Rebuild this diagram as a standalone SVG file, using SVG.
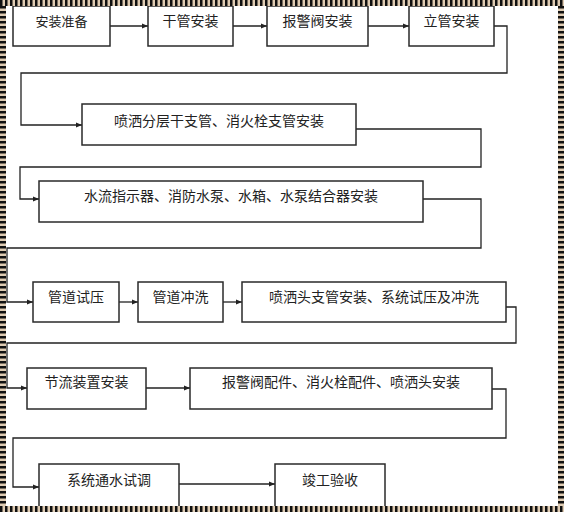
<svg xmlns="http://www.w3.org/2000/svg" width="564" height="512" viewBox="0 0 564 512">
<style>
.box{fill:#fff;stroke:#2a2a2a;stroke-width:1.5}
.t{font-family:"Liberation Serif","Noto Sans CJK SC",serif;font-size:14px;fill:#222;text-anchor:middle}
.c{fill:none;stroke:#222;stroke-width:1.3}
</style>
<defs>
<marker id="ah" markerUnits="userSpaceOnUse" markerWidth="6" markerHeight="6" refX="6" refY="3" orient="auto">
<path d="M0,0.6 L6,3 L0,5.4 Z" fill="#222"/>
</marker>
</defs>
<rect x="0" y="0" width="564" height="512" fill="#fff"/>
<g id="connectors">
<path class="c" d="M110,26 H148" marker-end="url(#ah)"/>
<path class="c" d="M233,26 H267" marker-end="url(#ah)"/>
<path class="c" d="M368,26 H409" marker-end="url(#ah)"/>
<path class="c" d="M494,26 H507 V73 H21 V125 H82" marker-end="url(#ah)"/>
<path class="c" d="M356,129 H481 V167 H20 V199 H39" marker-end="url(#ah)"/>
<path class="c" d="M423,199 H481 V248 H7 V302 H33" marker-end="url(#ah)"/>
<path class="c" d="M119,302 H138" marker-end="url(#ah)"/>
<path class="c" d="M223,302 H242" marker-end="url(#ah)"/>
<path class="c" d="M506,307 H516 V343 H7 V388 H27" marker-end="url(#ah)"/>
<path class="c" d="M146,388 H190" marker-end="url(#ah)"/>
<path class="c" d="M492,389 H506 V438 H13 V487 H39" marker-end="url(#ah)"/>
<path class="c" d="M179,484 H275" marker-end="url(#ah)"/>
</g>
<g id="n1"><rect class="box" x="13" y="6" width="97" height="40"/><text class="t" x="61.5" y="26" style="font-size:13px">安装准备</text></g>
<g id="n2"><rect class="box" x="148" y="6" width="85" height="40"/><text class="t" x="190.5" y="26">干管安装</text></g>
<g id="n3"><rect class="box" x="267" y="6" width="101" height="40"/><text class="t" x="317.5" y="26">报警阀安装</text></g>
<g id="n4"><rect class="box" x="409" y="6" width="85" height="40"/><text class="t" x="451.5" y="26">立管安装</text></g>
<g id="n5"><rect class="box" x="82" y="104" width="274" height="41"/><text class="t" x="219" y="126">喷洒分层干支管、消火栓支管安装</text></g>
<g id="n6"><rect class="box" x="39" y="181" width="384" height="41"/><text class="t" x="231" y="201">水流指示器、消防水泵、水箱、水泵结合器安装</text></g>
<g id="n7"><rect class="box" x="33" y="282" width="86" height="40"/><text class="t" x="76" y="302">管道试压</text></g>
<g id="n8"><rect class="box" x="138" y="282" width="85" height="40"/><text class="t" x="180.5" y="302">管道冲洗</text></g>
<g id="n9"><rect class="box" x="242" y="282" width="264" height="40"/><text class="t" x="374" y="302">喷洒头支管安装、系统试压及冲洗</text></g>
<g id="n10"><rect class="box" x="27" y="368" width="119" height="41"/><text class="t" x="86.5" y="387">节流装置安装</text></g>
<g id="n11"><rect class="box" x="190" y="368" width="302" height="41"/><text class="t" x="341" y="387">报警阀配件、消火栓配件、喷洒头安装</text></g>
<g id="n12"><rect class="box" x="39" y="464" width="140" height="48"/><text class="t" x="109" y="485">系统通水试调</text></g>
<g id="n13"><rect class="box" x="275" y="464" width="110" height="48"/><text class="t" x="330" y="485">竣工验收</text></g>
<g id="frame">
<path d="M3,3 H561 V509 H3 Z" fill="none" stroke="#e0ccb3" stroke-width="6"/>
<path d="M0,3 H564 M0,509 H564" fill="none" stroke="#111" stroke-width="6" stroke-dasharray="2.5 2.5"/>
<path d="M3,6 V506 M561,6 V506" fill="none" stroke="#111" stroke-width="6" stroke-dasharray="2.5 2.5"/>
</g>
</svg>
